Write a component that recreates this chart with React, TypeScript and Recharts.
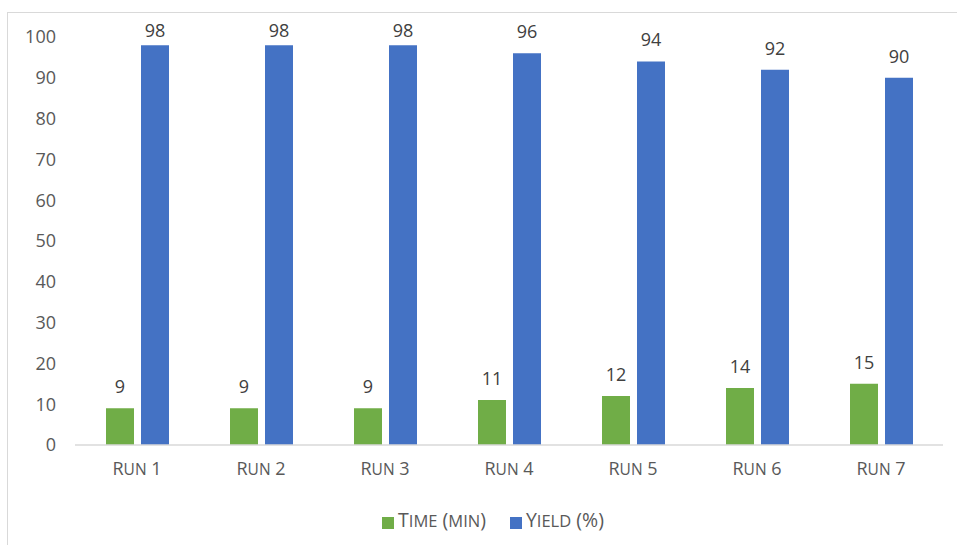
import { BarChart, Bar, XAxis, YAxis, Legend, LabelList } from 'recharts';

const runs = ['Run 1', 'Run 2', 'Run 3', 'Run 4', 'Run 5', 'Run 6', 'Run 7'];
const timeMin = [9, 9, 9, 11, 12, 14, 15];
const yieldPct = [98, 98, 98, 96, 94, 92, 90];
const yTicks = [0, 10, 20, 30, 40, 50, 60, 70, 80, 90, 100];

const data = runs.map((run, i) => ({ run, time: timeMin[i], yld: yieldPct[i] }));

const FONT = '"Open Sans", "Noto Sans", sans-serif';
const TEXT = '#595959';
const BIG = 18;
const SMALL = 15.5;

const names: { [key: string]: string } = {
  time: 'Time (min)',
  yld: 'Yield (%)',
};

// fake small caps: lowercase letters become smaller capitals
function smallCapParts(s: string) {
  const parts: { t: string; small: boolean }[] = [];
  for (const ch of s) {
    const small = ch !== ch.toUpperCase();
    const last = parts[parts.length - 1];
    if (last && last.small === small) last.t += small ? ch.toUpperCase() : ch;
    else parts.push({ t: small ? ch.toUpperCase() : ch, small });
  }
  return parts;
}

function RunTick(props: any) {
  const { x, y, payload } = props;
  return (
    <text x={x} y={y} dy={22} textAnchor="middle" fill={TEXT} fontSize={BIG} fontFamily={FONT}>
      {smallCapParts(payload.value).map((p, i) => (
        <tspan key={i} fontSize={p.small ? SMALL : BIG}>{p.t}</tspan>
      ))}
    </text>
  );
}

// value label above the bar, kept inside the chart like Excel does
function TopLabel(props: any) {
  const { x, y, width, value } = props;
  const base = Math.max(Number(y) - 15, 24);
  return (
    <text x={Number(x) + Number(width) / 2} y={base} textAnchor="middle" fill="#404040" fontSize={BIG} fontFamily={FONT}>
      {value}
    </text>
  );
}

export default function App() {
  return (
    <div
      style={{
        position: 'absolute',
        left: 7,
        top: 12,
        width: 960,
        height: 545,
        border: '1px solid #d9d9d9',
        background: '#fff',
      }}
    >
      <BarChart
        width={960}
        height={545}
        data={data}
        margin={{ top: 24, right: 25, bottom: 25, left: 29 }}
        barGap={7}
        barSize={28}
      >
        <XAxis
          dataKey="run"
          axisLine={{ stroke: '#d9d9d9', strokeWidth: 1.5 }}
          tickLine={false}
          tick={<RunTick />}
          height={61}
          interval={0}
        />
        <YAxis
          domain={[0, 100]}
          ticks={yTicks}
          axisLine={false}
          tickLine={false}
          width={38}
          tickMargin={13}
          tick={{ fill: TEXT, fontSize: BIG, fontFamily: FONT }}
        />
        <Legend
          verticalAlign="bottom"
          align="center"
          iconType="square"
          iconSize={12}
          wrapperStyle={{ left: 37 }}
          formatter={(value, _entry, index) => (
            <span style={{ color: TEXT, fontSize: 19.5, fontFamily: FONT, marginRight: index === 0 ? 14 : 0 }}>
              {smallCapParts(names[value] || value).map((p, i) => (
                <span key={i} style={{ fontSize: p.small ? 16.5 : 19.5 }}>{p.t}</span>
              ))}
            </span>
          )}
        />
        <Bar dataKey="time" fill="#70ad47" isAnimationActive={false}>
          <LabelList dataKey="time" content={<TopLabel />} />
        </Bar>
        <Bar dataKey="yld" fill="#4472c4" isAnimationActive={false}>
          <LabelList dataKey="yld" content={<TopLabel />} />
        </Bar>
      </BarChart>
    </div>
  );
}
